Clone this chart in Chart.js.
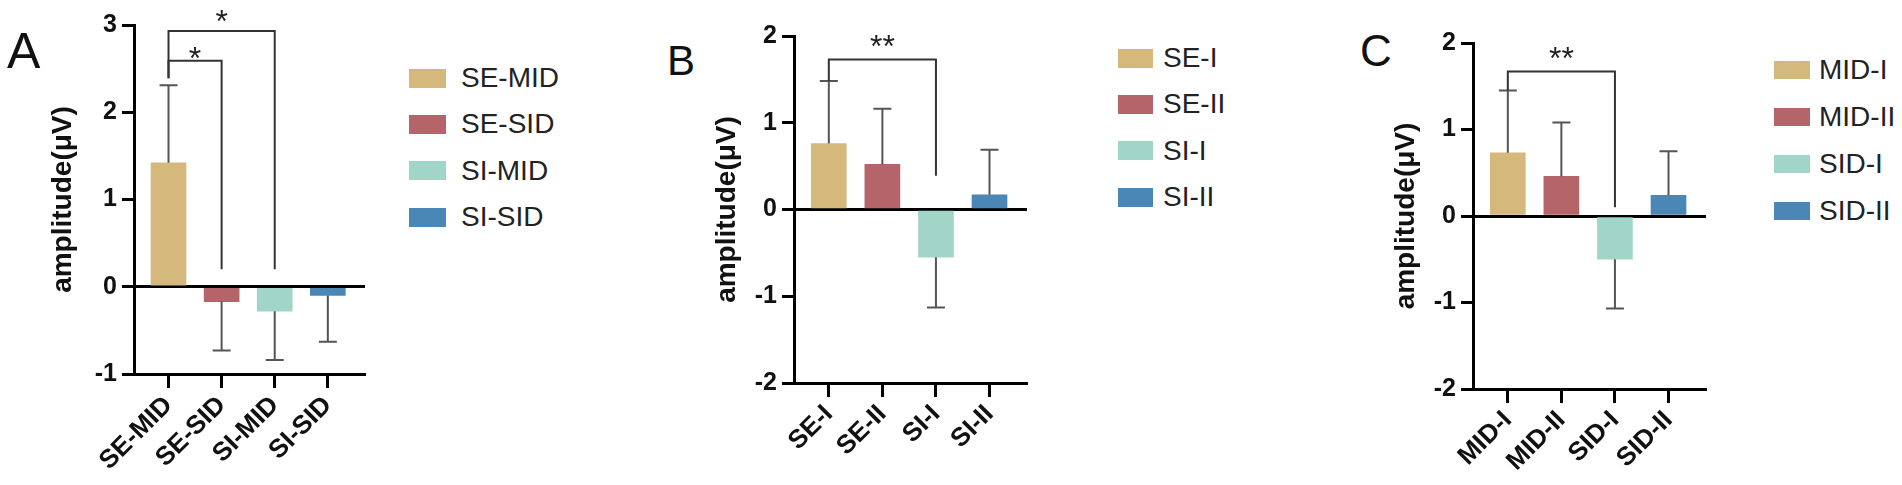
<!DOCTYPE html>
<html>
<head>
<meta charset="utf-8">
<script src="https://cdn.jsdelivr.net/npm/chart.js@4.4.1/dist/chart.umd.min.js"></script>
<style>
  html, body { margin: 0; padding: 0; background: #fff; }
  body { width: 1902px; height: 485px; position: relative; overflow: hidden; font-family: "Liberation Sans", Arial, sans-serif; }
  canvas { position: absolute; top: 0; }
  .letter { position: absolute; line-height: 1; color: #111; }
  .legend { position: absolute; }
  .legend-item { display: flex; align-items: center; font-size: 28px; line-height: 1; color: #222; white-space: nowrap; }
  .legend-box { flex: none; display: inline-block; }
</style>
</head>
<body>
<div class="letter" style="left:7px; top:26px; font-size:50px">A</div>
<div class="letter" style="left:667px; top:40px; font-size:42px">B</div>
<div class="letter" style="left:1360px; top:29px; font-size:44px">C</div>

<canvas id="chartA" width="333" height="485" style="left:42px"></canvas>
<canvas id="chartB" width="331" height="485" style="left:706px"></canvas>
<canvas id="chartC" width="331" height="485" style="left:1385px"></canvas>

<div id="legendA" class="legend" style="left:409px; top:55px"></div>
<div id="legendB" class="legend" style="left:1118px; top:35px"></div>
<div id="legendC" class="legend" style="left:1774px; top:46px"></div>

<script>
// ------------------- Data -------------------
const barColors = ["#D5B97C", "#B5646A", "#A1D5C8", "#4A87B6"];

const labelsA = ["SE-MID", "SE-SID", "SI-MID", "SI-SID"];
const meansA = [1.42, -0.17, -0.28, -0.10];
const sdA = [0.89, 0.56, 0.56, 0.53];

const labelsB = ["SE-I", "SE-II", "SI-I", "SI-II"];
const meansB = [0.76, 0.52, -0.55, 0.17];
const sdB = [0.72, 0.64, 0.58, 0.52];

const labelsC = ["MID-I", "MID-II", "SID-I", "SID-II"];
const meansC = [0.73, 0.46, -0.50, 0.24];
const sdC = [0.72, 0.62, 0.57, 0.51];

// significance brackets, in category index / axis units
const bracketsA = [
  { from: 1, to: 2, top: 2.59, fromStart: 2.39, toEnd: 0.2, mark: "*", markY: 2.70 },
  { from: 1, to: 3, top: 2.93, fromStart: 2.39, toEnd: 0.2, mark: "*", markY: 3.13 }
];
const bracketsB = [
  { from: 1, to: 3, top: 1.73, fromStart: 1.48, toEnd: 0.39, mark: "**", markY: 1.97 }
];
const bracketsC = [
  { from: 1, to: 3, top: 1.67, fromStart: 1.45, toEnd: 0.1, mark: "**", markY: 1.91 }
];

Chart.defaults.font.family = '"Liberation Sans", Arial, sans-serif';

document.addEventListener("DOMContentLoaded", function () {
  renderPanel("chartA", labelsA, meansA, sdA, bracketsA, -1, 3, { top: 25, yWidth: 92, xHeight: 111 });
  renderPanel("chartB", labelsB, meansB, sdB, bracketsB, -2, 2, { top: 36, yWidth: 88, xHeight: 102 });
  renderPanel("chartC", labelsC, meansC, sdC, bracketsC, -2, 2, { top: 43, yWidth: 88, xHeight: 96 });

  renderLegend("legendA", labelsA, { rowH: 46.3, boxW: 37, boxH: 19, gap: 15 });
  renderLegend("legendB", labelsB, { rowH: 46.3, boxW: 35, boxH: 19, gap: 10 });
  renderLegend("legendC", labelsC, { rowH: 47, boxW: 36, boxH: 18, gap: 9 });
});

// ------------------- Helper Functions -------------------

// one-sided error bars (away from zero)
function errorBars(means, sd) {
  return {
    id: "errorBars",
    afterDatasetsDraw(chart) {
      const { ctx, scales: { x, y } } = chart;
      ctx.save();
      ctx.strokeStyle = "#555";
      ctx.lineWidth = 2;
      means.forEach((m, i) => {
        const px = x.getPixelForValue(i + 1);
        const end = m >= 0 ? m + sd[i] : m - sd[i];
        const y0 = y.getPixelForValue(m);
        const y1 = y.getPixelForValue(end);
        ctx.beginPath();
        ctx.moveTo(px, y0);
        ctx.lineTo(px, y1);
        ctx.moveTo(px - 9, y1);
        ctx.lineTo(px + 9, y1);
        ctx.stroke();
      });
      ctx.restore();
    }
  };
}

// significance brackets with stars
function significance(brackets) {
  return {
    id: "significance",
    afterDraw(chart) {
      const { ctx, scales: { x, y } } = chart;
      ctx.save();
      brackets.forEach((b) => {
        const xa = x.getPixelForValue(b.from);
        const xb = x.getPixelForValue(b.to);
        const yt = y.getPixelForValue(b.top);
        ctx.strokeStyle = "#333";
        ctx.lineWidth = 2;
        ctx.beginPath();
        ctx.moveTo(xa, y.getPixelForValue(b.fromStart));
        ctx.lineTo(xa, yt);
        ctx.lineTo(xb, yt);
        ctx.lineTo(xb, y.getPixelForValue(b.toEnd));
        ctx.stroke();

        ctx.fillStyle = "#222";
        ctx.font = '32px "Liberation Sans", Arial, sans-serif';
        ctx.textAlign = "center";
        ctx.textBaseline = "alphabetic";
        ctx.fillText(b.mark, (xa + xb) / 2, y.getPixelForValue(b.markY) + 18);
      });
      ctx.restore();
    }
  };
}

function renderPanel(id, labels, means, sd, brackets, yMin, yMax, box) {
  new Chart(document.getElementById(id), {
    type: "bar",
    data: {
      datasets: [{
        data: means.map((v, i) => ({ x: i + 1, y: v })),
        backgroundColor: barColors,
        borderWidth: 0,
        barThickness: 35,
      }],
    },
    options: {
      responsive: false,
      animation: false,
      layout: { padding: { top: box.top, right: 10, bottom: 0, left: 0 } },
      plugins: {
        legend: { display: false },
        tooltip: { enabled: false }
      },
      scales: {
        x: {
          type: "linear",
          min: 0.35,
          max: 4.7,
          offset: false,
          z: 1,
          afterBuildTicks: (s) => { s.ticks = labels.map((_, i) => ({ value: i + 1 })); },
          afterFit: (s) => { s.height = box.xHeight; },
          ticks: {
            callback: (v) => labels[v - 1],
            autoSkip: false,
            minRotation: 45,
            maxRotation: 45,
            padding: 2,
            color: "#111",
            font: { size: 26, weight: "bold" }
          },
          grid: { drawOnChartArea: false, offset: false, tickLength: 14, tickColor: "#000", tickWidth: 3 },
          border: { color: "#000", width: 3 }
        },
        y: {
          min: yMin,
          max: yMax,
          z: 1,
          afterFit: (s) => { s.width = box.yWidth; },
          ticks: {
            stepSize: 1,
            padding: 5,
            color: "#111",
            font: { size: 25, weight: "bold" }
          },
          grid: {
            color: (ctx) => (ctx.tick && ctx.tick.value === 0 ? "#000" : "rgba(0,0,0,0)"),
            lineWidth: 3,
            tickColor: "#000",
            tickWidth: 3,
            tickLength: 12
          },
          border: { color: "#000", width: 3 },
          title: {
            display: true,
            text: "amplitude(μV)",
            color: "#111",
            font: { size: 28, weight: "bold" },
            padding: { top: 4, bottom: 4 }
          }
        }
      }
    },
    plugins: [errorBars(means, sd), significance(brackets)],
  });
}

function renderLegend(id, labels, geom) {
  const el = document.getElementById(id);
  el.innerHTML = labels.map((lab, i) => `
    <div class="legend-item" style="height:${geom.rowH}px">
      <span class="legend-box" style="width:${geom.boxW}px;height:${geom.boxH}px;margin-right:${geom.gap}px;background:${barColors[i]}"></span>
      <span>${lab}</span>
    </div>`).join("");
}
</script>
</body>
</html>
